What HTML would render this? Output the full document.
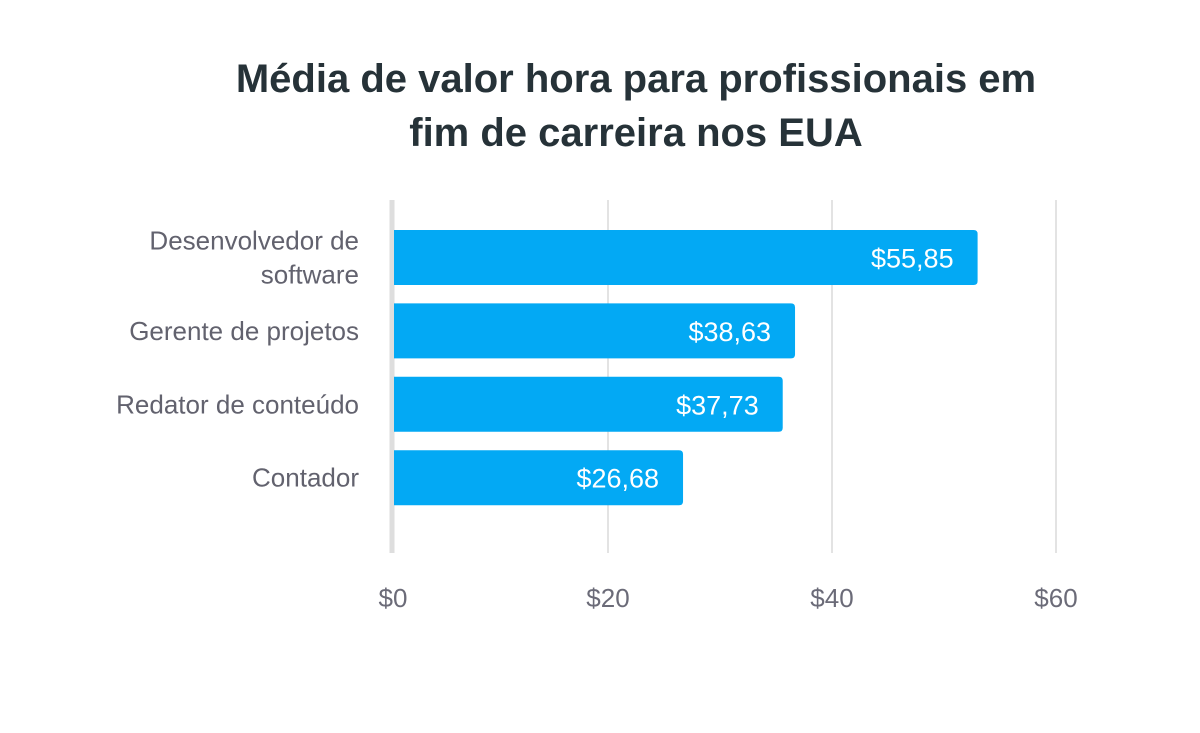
<!DOCTYPE html>
<html><head><meta charset="utf-8"><style>
body{margin:0;background:#fff;}
svg{display:block;font-family:"Liberation Sans",sans-serif;}
</style></head><body>
<svg id="chart" width="1200" height="733" viewBox="0 0 1200 733">
<rect width="1200" height="733" fill="#fff"/>
<text x="636" y="92" text-anchor="middle" font-size="40" font-weight="bold" fill="#263238">Média de valor hora para profissionais em</text>
<text x="636" y="146" text-anchor="middle" font-size="40" font-weight="bold" fill="#263238">fim de carreira nos EUA</text>
<g id="grid"></g><g id="bars"></g><g id="labels"></g>
</svg>
<script>
const categories = [["Desenvolvedor de","software"],["Gerente de projetos"],["Redator de conteúdo"],["Contador"]];
const values = [53.0, 36.7, 35.6, 26.7];
const valueLabels = ["$55,85","$38,63","$37,73","$26,68"];
const ticks = [0, 20, 40, 60];
const tickLabels = ["$0","$20","$40","$60"];

const NS="http://www.w3.org/2000/svg";
const x0=384, pxPer=11.2;
function xs(v){return x0+v*pxPer;}
const barStart=394;
const rowTop=230, pitch=73.4, barH=55;
function ys(i){return rowTop+i*pitch;}
function mk(tag,attrs,parent){const e=document.createElementNS(NS,tag);for(const k in attrs)e.setAttribute(k,attrs[k]);parent.appendChild(e);return e;}
const grid=document.getElementById('grid'),bars=document.getElementById('bars'),labels=document.getElementById('labels');
ticks.forEach((t,i)=>{
  if(i>0){
    const l=mk('line',{x1:xs(t),x2:xs(t),y1:200,y2:553,stroke:'#e3e3e3','stroke-width':2},grid);
    
    
  }
  const tx=mk('text',{x:i==0?393:xs(t),y:607,'text-anchor':'middle','font-size':26,fill:'#6b6b78'},grid);
  tx.textContent=tickLabels[i];
  
  
});
const ax=mk('line',{x1:392,x2:392,y1:200,y2:553,stroke:'#dedede','stroke-width':5},grid);


values.forEach((v,i)=>{
  const y=ys(i), w=xs(v)-barStart;
  const r=mk('path',{d:`M${barStart} ${y}H${barStart+w-4}Q${barStart+w} ${y} ${barStart+w} ${y+4}V${y+barH-4}Q${barStart+w} ${y+barH} ${barStart+w-4} ${y+barH}H${barStart}Z`,fill:'#03a9f4'},bars);
  
  
  const t=mk('text',{x:barStart+w-24,y:y+barH/2+10,'text-anchor':'end','font-size':27,fill:'#fff'},bars);
  t.textContent=valueLabels[i];
  
  
  const lines=categories[i];
  lines.forEach((ln,j)=>{
    const cy=y+barH/2+9+(j-(lines.length-1)/2)*34;
    const c=mk('text',{x:359,y:cy,'text-anchor':'end','font-size':26,fill:'#62626e'},labels);
    c.textContent=ln;
    
    
  });
});
</script>
</body></html>
